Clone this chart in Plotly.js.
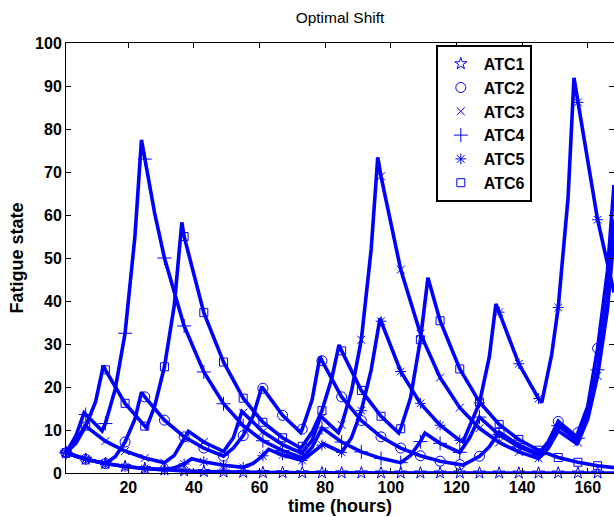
<!DOCTYPE html>
<html>
<head>
<meta charset="utf-8">
<script src="https://cdn.plot.ly/plotly-3.0.1.min.js"></script>
<style>html,body{margin:0;padding:0;background:#fff;}#chart{width:614px;height:517px;}</style>
</head>
<body>
<div id="chart"></div>
<script>
// [hour, fatigue] samples
const atc1 = [[1,4.7],[7,3.2],[13,2.2],[19,1.5],[25,1.05],[31,0.72],[37,0.5],[43,0.34],[49,0.23],[55,0.16],[61,0.11],[67,0.08],[73,0.06],[79,0.04],[85,0.03],[91,0.02],[97,0.02],[103,0.01],[109,0.01],[115,0.01],[121,0.01],[127,0],[133,0],[139,0],[145,0],[151,0],[157,0],[163,0],[168,0]];
const atc2 = [[1,4.7],[7,3.2],[13,2.2],[16,3.8],[19,7.2],[22,12.5],[24,18.8],[25,17.7],[31,12.3],[37,8.4],[43,5.8],[49,3.9],[52,5.8],[55,8.7],[58,13.2],[60.7,20.1],[61,19.7],[67,13.4],[72.5,9.4],[73,10.2],[76,17],[78.4,27.1],[79,26.1],[85,17.7],[91,12.2],[97,8.4],[103,5.8],[109,4.0],[115,2.75],[121,1.95],[122,1.85],[127,3.9],[130,6.1],[133,9.5],[139,6.5],[145,4.5],[148,7.3],[151,12],[156.5,8.5],[157,9.4],[160,15.5],[163,29],[166,47],[168,67]];
const atc3 = [[1,4.7],[4,7.3],[6.8,11],[7,10.9],[13,7.4],[19,5.1],[25,3.5],[31,2.4],[34,4.1],[37,8.0],[38.3,9.7],[43,7.2],[49,5.0],[52,8.2],[54.6,14.3],[55,14.0],[61,9.6],[67,6.6],[72.8,4.6],[73,4.8],[76,7.6],[78.6,13.2],[79,12.9],[84,9.4],[85,11.2],[88,19],[91,31],[94,52],[96,73.4],[97,69],[103,47.3],[109,32.4],[115,22.2],[121,15.2],[127,10.4],[133,7.1],[139,4.9],[145,3.4],[148,5.8],[151,9.8],[156.7,6.8],[157,7.1],[160,12.5],[163,22.6],[166,38],[168,55]];
const atc4 = [[1,4.7],[4,8.6],[6.5,14],[7,13.6],[12,9.8],[13,11.5],[16,19.5],[19,32.5],[22,55],[24,77.5],[25,73],[28,60.5],[31,50],[37,34.2],[43,23.5],[49,16.1],[55,11.0],[61,7.5],[67,5.2],[73,3.5],[76,6.0],[79,10.5],[85,7.2],[91,4.9],[97,3.4],[103,2.4],[106,4.1],[109,7.3],[110.4,9.3],[115,6.9],[121,4.8],[124,8.2],[127,13],[133,8.9],[139,6.1],[145,4.2],[148,7.1],[151,11],[156.7,7.7],[157,8.1],[160,14],[163,24],[166,41],[168,59]];
const atc5 = [[1,4.7],[7,3.2],[13,2.2],[19,1.5],[25,1.05],[31,0.72],[34,1.2],[37,2.1],[39.3,3.3],[43,2.6],[49,1.8],[55,1.3],[58,2.2],[61,4.0],[62.7,5.5],[67,4.2],[73,2.9],[76,4.6],[79,6.5],[79.4,6.8],[85,4.8],[88,8.2],[91,14.5],[94,24],[96.7,36],[97,35.3],[103,23.6],[109,16.2],[115,11.1],[121,7.6],[122,7.3],[127,16.3],[130,27],[132,39.3],[133,37.4],[139,25.4],[145,17.3],[146,16.4],[149,27.5],[151,38.5],[154,64],[155.8,91.9],[157,86.2],[163,58.9],[168,42]];
const atc6 = [[1,4.7],[4,6.9],[7,10.9],[10,16.5],[12.4,25],[13,24],[19,16.2],[25,10.9],[25.5,10.5],[28,15.5],[31,24.7],[34,39],[36.3,58.3],[37,55],[43,37.3],[49,25.8],[55,17.4],[61,11.8],[67,8.2],[72.5,5.8],[73,6.2],[76,9.5],[79,14.5],[82,22],[84.2,29.8],[85,28.4],[91,19.2],[97,13.2],[102.4,9.3],[103,10.3],[106,17.5],[109,31],[111.3,45.4],[115,35.4],[121,24.2],[127,16.5],[133,11.3],[139,7.8],[145,5.3],[151,3.6],[157,2.5],[163,1.7],[168,1.25]];

const seriesNames = ['ATC1','ATC2','ATC3','ATC4','ATC5','ATC6'];
const markerHours = [1,7,13,19,25,31,37,43,49,55,61,67,73,79,85,91,97,103,109,115,121,127,133,139,145,151,157,163];
const xTicks = [20,40,60,80,100,120,140,160];

const allSeries = [atc1, atc2, atc3, atc4, atc5, atc6];
const symbols = ['star-open','circle-open','x-thin-open','cross-thin-open','asterisk-open','square-open'];
const sizes = [9,10,8,10,9,8];
const blue = '#0000ff';
const FONT = 'Liberation Sans, Arial, sans-serif';

const traces = [];
allSeries.forEach((s) => {
  traces.push({x: s.map(p => p[0]), y: s.map(p => p[1]), mode: 'lines', type: 'scatter',
    line: {color: blue, width: 3.6}, showlegend: false, hoverinfo: 'skip'});
});
allSeries.forEach((s, i) => {
  const m = s.filter(p => markerHours.includes(p[0]));
  traces.push({x: m.map(p => p[0]), y: m.map(p => p[1]), mode: 'markers', type: 'scatter',
    name: seriesNames[i], cliponaxis: false,
    marker: {symbol: symbols[i], size: sizes[i], color: blue, line: {color: blue, width: 1}}});
});

const layout = {
  width: 614, height: 517,
  margin: {l: 66, r: 0, t: 43, b: 44},
  paper_bgcolor: '#fff', plot_bgcolor: '#fff',
  font: {family: FONT, color: '#000'},
  title: {text: 'Optimal Shift', font: {family: FONT, size: 15.5, color: '#000'},
    x: 0.5, xref: 'paper', y: 1 - 18/517, yref: 'container', yanchor: 'middle'},
  xaxis: {range: [1, 168], tickvals: xTicks, ticktext: xTicks.map(String),
    ticks: 'inside', ticklen: 5, tickcolor: '#000', showline: true, linecolor: '#000', linewidth: 1,
    mirror: 'ticks', showgrid: false, zeroline: false,
    tickfont: {family: FONT, size: 16, weight: 'bold', color: '#000'},
    title: {text: 'time (hours)', font: {family: FONT, size: 18, weight: 'bold', color: '#000'}, standoff: 0}},
  yaxis: {range: [0, 100], dtick: 10, tick0: 0,
    ticks: 'inside', ticklen: 5, tickcolor: '#000', showline: true, linecolor: '#000', linewidth: 1,
    mirror: 'ticks', showgrid: false, zeroline: false,
    tickfont: {family: FONT, size: 16, weight: 'bold', color: '#000'},
    title: {text: 'Fatigue state', font: {family: FONT, size: 18, weight: 'bold', color: '#000'}, standoff: 6}},
  legend: {x: (436-66)/548, xanchor: 'left', y: (473-45)/430, yanchor: 'top',
    bgcolor: '#fff', bordercolor: '#000', borderwidth: 1.8, itemwidth: 36,
    font: {family: FONT, size: 16, weight: 'bold', color: '#000'}, tracegroupgap: 0},
  showlegend: true
};

Plotly.newPlot('chart', traces, layout, {displayModeBar: false, staticPlot: true});
</script>
</body>
</html>
